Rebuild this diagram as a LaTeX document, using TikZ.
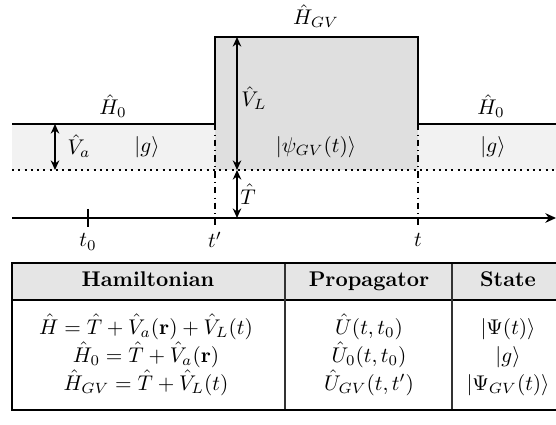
\documentclass[tikz,border=0pt]{standalone}
\usepackage{amsmath,amssymb}
\usepackage{tikz}
\usetikzlibrary{positioning, arrows.meta}
\tikzset{
    level/.style={line width=0.95pt, black},
    marker/.style={dashdotted, line width=0.85pt},
    dblarrow/.style={{Stealth[length=4.5pt,width=4pt]}-{Stealth[length=4.5pt,width=4pt]}, line width=0.85pt},
    lbl/.style={inner sep=1pt},
    cell/.style={anchor=base, inner sep=0pt}
}

\begin{document}
\begin{tikzpicture}[x=0.47pt, y=-0.47pt]
        \useasboundingbox (0,0) rectangle (556,425);

        % Shaded regions: bound band and the pulse window
        \fill[gray!10] (12,124) rectangle (556,170);
        \fill[gray!25] (215,37) rectangle (418,170);

        % Key points
        \coordinate (start) at (12,124);
        \coordinate (tp) at (215,124);
        \coordinate (tpup) at (215,37);
        \coordinate (tup) at (418,37);
        \coordinate (tt) at (418,124);
        \coordinate (finish) at (556,124);
        \coordinate (axisL) at (12,218);
        \coordinate (axisR) at (556,218);

        % Energy step
        \draw[level] (start) -- (tp) -- (tpup) -- (tup) -- (tt) -- (finish);
        \draw[dotted, line width=0.95pt] (12,170) -- (556,170);

        % Time axis
        \draw[level, -{Stealth[length=5pt,width=4.5pt]}] (axisL) -- (axisR);
        \draw[line width=0.95pt] (88,209) -- (88,227);
        \draw[marker] (tp) -- (215,227);
        \draw[marker] (tt) -- (418,227);

        % Time labels
        \node[lbl] (t0) at (88,242) {$t_0$};
        \node[lbl] (tprime) at (215,240) {$t'$};
        \node[lbl] (tlab) at (418,240) {$t$};

        % Hamiltonian labels
        \node[lbl] (H0l) at (113,106) {$\hat{H}_0$};
        \node[lbl] (HGV) at (316,16) {$\hat{H}_{GV}$};
        \node[lbl] (H0r) at (491,106) {$\hat{H}_0$};

        % States
        \node[lbl] (gl) at (147,147) {$|g\rangle$};
        \node[lbl] (psi) at (316,147) {$|\psi_{GV}(t)\rangle$};
        \node[lbl] (gr) at (493,147) {$|g\rangle$};

        % Potentials
        \coordinate (VaTop) at (55,124);
        \coordinate (VaBot) at (55,170);
        \coordinate (VLTop) at (237,37);
        \coordinate (VLBot) at (237,170);
        \coordinate (TBot) at (237,218);
        \draw[dblarrow] (VaTop) -- (VaBot);
        \draw[dblarrow] (VLTop) -- (VLBot);
        \draw[dblarrow] (VLBot) -- (TBot);
        \node[lbl] (Va) at (79,146) {$\hat{V}_a$};
        \node[lbl] (VL) at (254,98) {$\hat{V}_L$};
        \node[lbl] (T) at (248,194) {$\hat{T}$};

        % Table
        \fill[gray!20] (12,263) rectangle (560,300);
        \draw[line width=0.5pt] (12,300) -- (560,300);
        \draw[line width=0.5pt, black!80] (285,263) -- (285,410);
        \draw[line width=0.5pt, black!80] (452,263) -- (452,410);
        \draw[line width=0.95pt] (12,263) rectangle (560,410);

        \node[cell] (hHam) at (148,287) {\textbf{Hamiltonian}};
        \node[cell] (hProp) at (369,287) {\textbf{Propagator}};
        \node[cell] (hState) at (508,287) {\textbf{State}};

        \node[cell] (r1a) at (146,334) {$\hat{H} = \hat{T} + \hat{V}_a(\mathbf{r}) + \hat{V}_L(t)$};
        \node[cell] (r2a) at (146,362) {$\hat{H}_0 = \hat{T} + \hat{V}_a(\mathbf{r})$};
        \node[cell] (r3a) at (146,390) {$\hat{H}_{GV} = \hat{T} + \hat{V}_L(t)$};

        \node[cell] (r1b) at (369,334) {$\hat{U}(t,t_0)$};
        \node[cell] (r2b) at (369,362) {$\hat{U}_0(t,t_0)$};
        \node[cell] (r3b) at (369,390) {$\hat{U}_{GV}(t,t')$};

        \node[cell] (r1c) at (508,334) {$|\Psi(t)\rangle$};
        \node[cell] (r2c) at (508,362) {$|g\rangle$};
        \node[cell] (r3c) at (508,390) {$|\Psi_{GV}(t)\rangle$};
\end{tikzpicture}
\end{document}
